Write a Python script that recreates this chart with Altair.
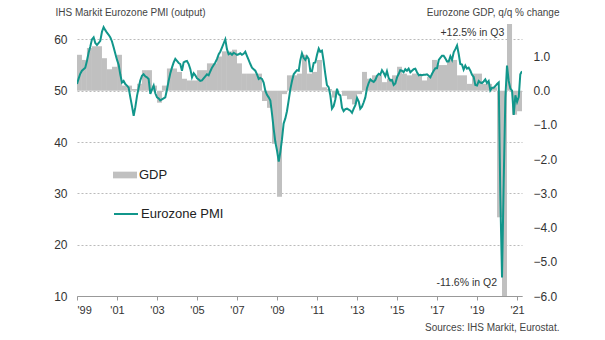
import altair as alt
import pandas as pd

# ---------------- data ----------------
# IHS Markit Eurozone composite PMI (output), monthly Jan 1999 - Apr 2021
pmi_1999 = [51.3, 52.4, 53.3, 53.9, 54.2, 54.5, 55.8, 57.4, 58.6, 60.0, 60.4, 59.3]
pmi_2000 = [58.9, 59.3, 59.7, 61.5, 62.4, 61.8, 61.3, 60.9, 60.4, 59.6, 58.4, 57.2]
pmi_2001 = [56.0, 55.0, 53.2, 51.6, 51.9, 51.3, 51.0, 50.6, 48.7, 47.0, 45.1, 46.8]
pmi_2002 = [49.0, 50.6, 52.0, 52.9, 53.2, 52.8, 52.6, 52.3, 49.4, 50.2, 51.0, 49.5]
pmi_2003 = [48.7, 48.5, 48.1, 48.3, 48.5, 48.7, 50.2, 51.9, 53.4, 54.5, 55.5, 56.2]
pmi_2004 = [55.8, 55.4, 55.2, 53.9, 55.5, 55.7, 55.8, 55.2, 54.2, 52.6, 53.4, 53.0]
pmi_2005 = [52.4, 52.2, 51.9, 52.0, 52.4, 52.8, 53.2, 53.0, 53.8, 54.5, 55.0, 55.5]
pmi_2006 = [56.2, 57.1, 57.6, 58.4, 59.2, 60.0, 58.1, 57.1, 57.3, 57.0, 57.4, 57.2]
pmi_2007 = [57.0, 57.1, 57.3, 57.0, 57.2, 57.6, 56.8, 56.0, 55.2, 54.5, 54.2, 53.9]
pmi_2008 = [53.2, 52.3, 52.5, 52.3, 51.6, 50.0, 49.2, 48.7, 48.1, 45.5, 42.5, 40.0]
pmi_2009 = [38.3, 36.2, 38.0, 40.5, 43.6, 44.6, 46.0, 48.1, 50.3, 51.9, 53.2, 53.6]
pmi_2010 = [54.0, 53.9, 55.9, 57.3, 56.4, 56.0, 56.7, 56.2, 53.8, 53.8, 55.4, 55.5]
pmi_2011 = [57.0, 58.2, 57.6, 57.8, 55.8, 53.3, 51.1, 50.7, 49.1, 46.5, 47.0, 48.3]
pmi_2012 = [50.4, 49.3, 49.1, 46.7, 46.0, 46.4, 46.5, 46.3, 46.1, 45.7, 46.5, 47.2]
pmi_2013 = [48.6, 47.9, 46.5, 46.9, 47.7, 48.7, 50.5, 51.5, 52.2, 51.9, 51.7, 52.1]
pmi_2014 = [52.9, 53.3, 53.1, 54.0, 53.5, 52.8, 53.8, 52.5, 52.0, 52.1, 51.1, 51.4]
pmi_2015 = [52.6, 53.3, 54.0, 53.9, 53.6, 54.2, 53.9, 54.3, 53.6, 53.9, 54.2, 54.3]
pmi_2016 = [53.6, 53.0, 53.1, 53.0, 53.1, 53.1, 53.2, 52.9, 52.6, 53.3, 53.9, 54.4]
pmi_2017 = [54.4, 56.0, 56.4, 56.8, 56.8, 56.3, 55.7, 55.7, 56.7, 56.0, 57.5, 58.1]
pmi_2018 = [58.8, 57.1, 55.2, 55.1, 54.1, 54.9, 54.3, 54.5, 53.9, 53.1, 52.7, 51.1]
pmi_2019 = [51.0, 51.9, 51.6, 51.5, 51.8, 52.2, 51.5, 51.9, 50.1, 50.6, 50.6, 50.9]
pmi_2020 = [51.3, 51.6, 29.7, 13.6, 31.9, 48.5, 54.9, 51.9, 50.4, 50.0, 45.3, 49.1]
pmi_2021 = [47.8, 48.8, 53.2, 53.8]

# Eurozone GDP, q/q % change, 1999Q1 - 2021Q1
gdp_1999 = [1.05, 0.9, 1.25, 1.3]
gdp_2000 = [1.3, 0.95, 0.63, 0.7]
gdp_2001 = [1.05, 0.15, 0.15, 0.05]
gdp_2002 = [0.2, 0.6, 0.6, 0.15]
gdp_2003 = [-0.35, 0.15, 0.65, 0.65]
gdp_2004 = [0.55, 0.35, 0.3, 0.3]
gdp_2005 = [0.6, 0.6, 0.8, 0.8]
gdp_2006 = [1.0, 1.15, 1.15, 1.2]
gdp_2007 = [0.8, 0.5, 0.5, 0.5]
gdp_2008 = [0.5, -0.3, -0.5, -1.55]
gdp_2009 = [-3.1, -0.1, 0.45, 0.45]
gdp_2010 = [0.5, 1.05, 0.5, 0.55]
gdp_2011 = [0.9, 0.1, 0.05, -0.2]
gdp_2012 = [0.0, -0.15, -0.25, -0.4]
gdp_2013 = [-0.1, 0.55, 0.35, 0.45]
gdp_2014 = [0.45, 0.25, 0.35, 0.45]
gdp_2015 = [0.7, 0.5, 0.45, 0.5]
gdp_2016 = [0.45, 0.3, 0.4, 0.9]
gdp_2017 = [0.75, 0.75, 0.9, 0.9]
gdp_2018 = [0.45, 0.45, 0.2, 0.5]
gdp_2019 = [0.5, 0.2, 0.2, 0.1]
gdp_2020 = [-3.7, -11.6, 12.5, -0.7]
gdp_2021 = [-0.6]

pmi_ticks = [10, 20, 30, 40, 50, 60]
gdp_ticks = [-6, -5, -4, -3, -2, -1, 0, 1]
year_ticks = list(range(1999, 2022, 2))

annot_text = ["+12.5% in Q3", "-11.6% in Q2"]
annot_date = ["2020-05-14", "2020-01-01"]
annot_gdp = [1.68, -5.62]

# ---------------- tables ----------------
pmi_values = (pmi_1999 + pmi_2000 + pmi_2001 + pmi_2002 + pmi_2003 + pmi_2004 + pmi_2005
              + pmi_2006 + pmi_2007 + pmi_2008 + pmi_2009 + pmi_2010 + pmi_2011 + pmi_2012
              + pmi_2013 + pmi_2014 + pmi_2015 + pmi_2016 + pmi_2017 + pmi_2018 + pmi_2019
              + pmi_2020 + pmi_2021)
gdp_values = (gdp_1999 + gdp_2000 + gdp_2001 + gdp_2002 + gdp_2003 + gdp_2004 + gdp_2005
              + gdp_2006 + gdp_2007 + gdp_2008 + gdp_2009 + gdp_2010 + gdp_2011 + gdp_2012
              + gdp_2013 + gdp_2014 + gdp_2015 + gdp_2016 + gdp_2017 + gdp_2018 + gdp_2019
              + gdp_2020 + gdp_2021)

months = pd.date_range("1999-01-01", periods=len(pmi_values), freq="MS")
pmi_df = pd.DataFrame({"date": months.strftime("%Y-%m-%d"), "pmi": pmi_values,
                       "series": "Eurozone PMI"})

qs = pd.date_range("1999-01-01", periods=len(gdp_values) + 1, freq="QS")
gdp_df = pd.DataFrame({"start": qs[:-1].strftime("%Y-%m-%d"), "end": qs[1:].strftime("%Y-%m-%d"),
                       "gdp": gdp_values, "series": "GDP"})

annot_df = pd.DataFrame({"date": annot_date, "gdp": annot_gdp, "text": annot_text})

# ---------------- chart ----------------
FONT = "Liberation Sans"
TEAL = "#11968b"
GREY = "#c0c0c0"

x_scale = alt.Scale(type="utc",
                    domain=[alt.DateTime(year=1999, month=1, date=1, utc=True),
                            alt.DateTime(year=2021, month=4, date=1, utc=True)])
x_axis = alt.Axis(values=[alt.DateTime(year=y, month=1, date=1, utc=True) for y in year_ticks],
                  labelExpr="\"'\" + utcFormat(datum.value, '%y')",
                  grid=False, domainColor="#999999", tickColor="#999999", tickSize=4,
                  labelFontSize=11, labelColor="#333333", labelPadding=4,
                  title="Sources: IHS Markit, Eurostat.", titleFontWeight="normal",
                  titleFontSize=10, titleColor="#444444", titleX=482, titleY=31,
                  titleAlign="right", titleBaseline="middle")

gdp_scale = alt.Scale(domain=[-6, 1.95], nice=False, zero=False)

bars = alt.Chart(gdp_df).mark_rect(clip=True).encode(
    x=alt.X("start:T", scale=x_scale, axis=x_axis),
    x2="end:T",
    y=alt.Y("gdp:Q", scale=gdp_scale,
            axis=alt.Axis(orient="right", values=gdp_ticks, format=".1f", grid=False,
                          domain=False, ticks=False, labelPadding=11, labelFontSize=12,
                          labelColor="#333333",
                          title="Eurozone GDP, q/q % change", titleAngle=0,
                          titleFontWeight="normal", titleFontSize=10, titleColor="#444444",
                          titleX=37, titleY=-12, titleAlign="right", titleBaseline="middle")),
    y2=alt.datum(0),
    color=alt.Color("series:N", scale=alt.Scale(domain=["GDP"], range=[GREY]),
                    legend=alt.Legend(title=None, orient="none", legendX=36, legendY=139,
                                      symbolType="M-1,-0.28H1V0.28H-1Z", symbolSize=576,
                                      symbolStrokeWidth=0, labelFontSize=13,
                                      labelColor="#222222", labelOffset=2, padding=0)),
)

line = alt.Chart(pmi_df).mark_line(strokeWidth=2, clip=True).encode(
    x=alt.X("date:T", scale=x_scale, axis=x_axis),
    y=alt.Y("pmi:Q", scale=alt.Scale(domain=[10, 63], nice=False, zero=False),
            axis=alt.Axis(orient="left", values=pmi_ticks, grid=True, gridDash=[2, 2],
                          gridColor="#bbbbbb", domain=False, ticks=False, labelPadding=10,
                          labelFontSize=12, labelColor="#333333",
                          title="IHS Markit Eurozone PMI (output)", titleAngle=0,
                          titleFontWeight="normal", titleFontSize=10, titleColor="#444444",
                          titleX=-22, titleY=-12, titleAlign="left", titleBaseline="middle")),
    stroke=alt.Stroke("series:N", scale=alt.Scale(domain=["Eurozone PMI"], range=[TEAL]),
                      legend=alt.Legend(title=None, orient="none", legendX=36, legendY=177,
                                        symbolType="stroke", symbolSize=576,
                                        symbolStrokeWidth=2, labelFontSize=13,
                                        labelColor="#222222", labelOffset=2, padding=0)),
)

notes = alt.Chart(annot_df).mark_text(align="right", baseline="middle", fontSize=10.5,
                                      color="#333333", font=FONT).encode(
    x=alt.X("date:T", scale=x_scale, axis=x_axis),
    y=alt.Y("gdp:Q", scale=gdp_scale, axis=None),
    text="text:N",
)

chart = alt.layer(bars, line, notes).resolve_scale(
    y="independent", color="independent"
).properties(
    width=445, height=272,
    autosize=alt.AutoSizeParams(type="none"),
    padding={"left": 77, "top": 24, "right": 83, "bottom": 44},
).configure(font=FONT).configure_view(stroke=None)

chart.save("out.html", embed_options={"renderer": "svg", "actions": False})
